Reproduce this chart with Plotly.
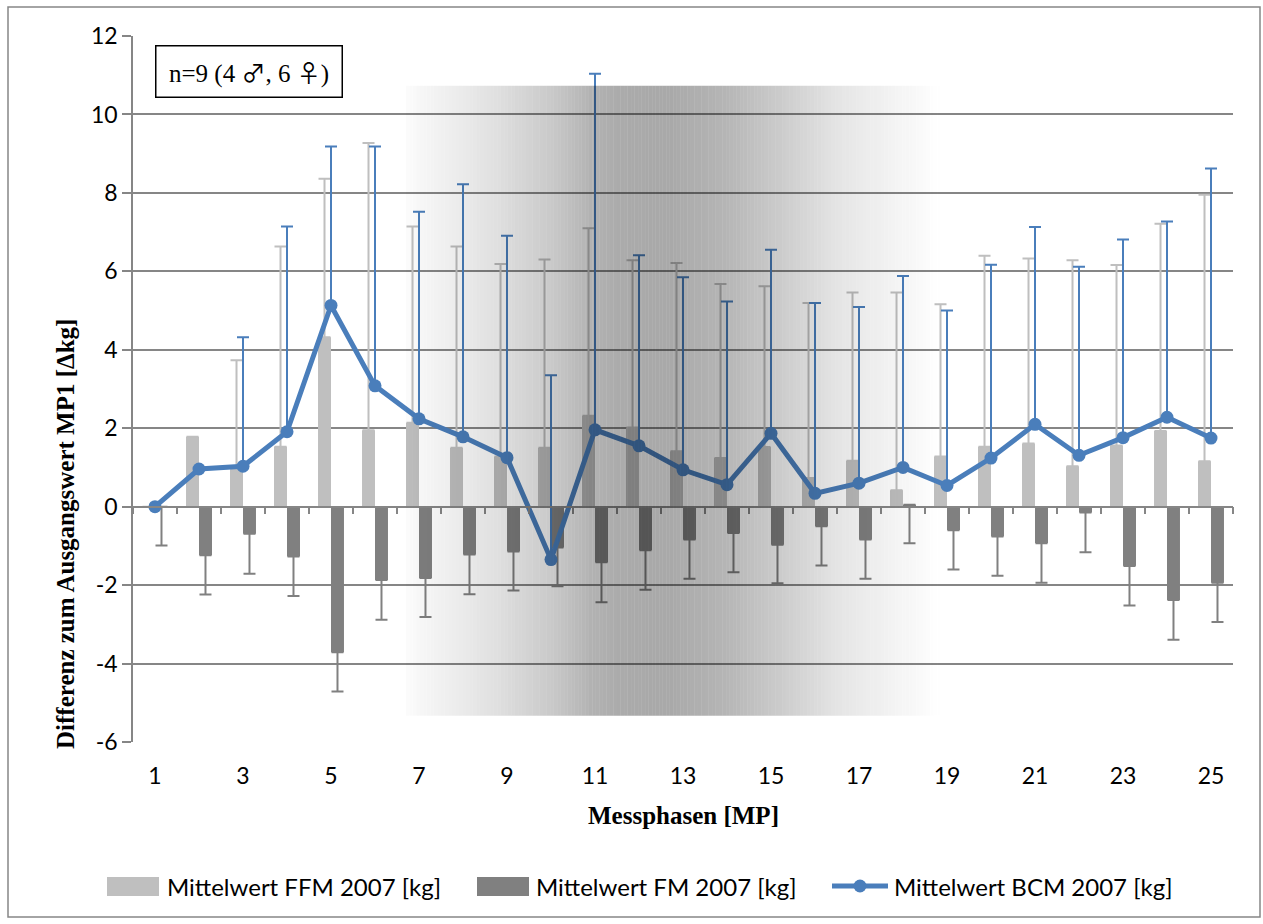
import numpy as np
import plotly.graph_objects as go

# ---------------- data ----------------
phases = list(range(1, 26))
tick_values = list(range(1, 26, 2))
tick_labels = [str(v) for v in tick_values]
y_ticks = [-6, -4, -2, 0, 2, 4, 6, 8, 10, 12]
y_tick_labels = ["-6", "-4", "-2", "0", "2", "4", "6", "8", "10", "12"]

ffm_mean = [0.00, 1.78, 0.95, 1.53, 4.32, 1.95, 2.14, 1.50, 1.28, 1.50,
            2.32, 2.02, 1.41, 1.24, 1.52, 0.73, 1.17, 0.42, 1.28, 1.53,
            1.61, 1.03, 1.56, 1.93, 1.16]
ffm_err_plus = [0.00, 0.00, 2.78, 5.10, 4.04, 7.32, 5.00, 5.13, 4.91, 4.80,
                4.78, 4.26, 4.80, 4.44, 4.10, 4.46, 4.29, 5.04, 3.88, 4.87,
                4.72, 5.25, 4.60, 5.28, 6.79]

fm_mean = [0.00, -1.24, -0.69, -1.27, -3.71, -1.87, -1.82, -1.22, -1.14, -1.04,
           -1.42, -1.11, -0.84, -0.67, -0.97, -0.50, -0.84, 0.05, -0.60, -0.76,
           -0.93, -0.15, -1.51, -2.38, -1.94]
fm_err_minus = [0.99, 1.00, 1.02, 1.01, 1.00, 1.01, 0.99, 1.01, 1.00, 0.99,
                1.02, 1.01, 1.00, 1.00, 0.98, 1.00, 1.00, 0.98, 1.00, 1.00,
                1.01, 1.01, 1.01, 1.01, 1.00]

bcm_mean = [0.00, 0.96, 1.03, 1.91, 5.13, 3.08, 2.24, 1.78, 1.25, -1.35,
            1.96, 1.55, 0.94, 0.56, 1.87, 0.34, 0.60, 1.00, 0.54, 1.24,
            2.10, 1.31, 1.76, 2.28, 1.75]
bcm_err_plus = [0.00, 0.00, 3.29, 5.23, 4.05, 6.10, 5.28, 6.44, 5.66, 4.70,
                9.08, 4.86, 4.91, 4.67, 4.68, 4.85, 4.49, 4.88, 4.46, 4.93,
                5.03, 4.81, 5.05, 4.99, 6.87]

series_names = ["Mittelwert FFM 2007 [kg]", "Mittelwert FM 2007 [kg]",
                "Mittelwert BCM 2007 [kg]"]
y_title = "Differenz zum Ausgangswert MP1 [Δkg]"
x_title = "Messphasen [MP]"
note_parts = ["n=9 (4 ", "♂", ", 6 ", "♀", ")"]

# ---------------- styles ----------------
C_FFM = "#BFBFBF"
C_FM = "#808080"
C_BCM = "#4A7EBB"
C_GRID = "#868686"
SANS = "Lato"
SERIF = "Liberation Serif"

W, H = 1263, 924
L, R, T, B = 133, 1233, 36, 742


def px(xp):
    return (xp - L) / (R - L)


def py(yp):
    return (B - yp) / (B - T)


fig = go.Figure()
fig.add_trace(go.Bar(
    x=phases, y=ffm_mean, name=series_names[0], marker_color=C_FFM,
    marker_line_width=0, showlegend=False,
    error_y=dict(type="data", symmetric=False, array=ffm_err_plus,
                 arrayminus=[0] * len(phases), color=C_FFM, thickness=2, width=6)))
fig.add_trace(go.Bar(
    x=phases, y=fm_mean, name=series_names[1], marker_color=C_FM,
    marker_line_width=0, showlegend=False,
    error_y=dict(type="data", symmetric=False, array=[0] * len(phases),
                 arrayminus=fm_err_minus, color=C_FM, thickness=2, width=6)))
fig.add_trace(go.Scatter(
    x=phases, y=bcm_mean, name=series_names[2], mode="lines+markers",
    line=dict(color=C_BCM, width=5), marker=dict(color=C_BCM, size=13),
    showlegend=False,
    error_y=dict(type="data", symmetric=False, array=bcm_err_plus,
                 arrayminus=[0] * len(phases), color=C_BCM, thickness=2, width=6)))

shapes = []
# gradient overlay (decoration)
g_x0, g_x1 = 6.70, 18.86
g_y0, g_y1 = -5.33, 10.73
stop_x = [6.70, 8.72, 10.0, 10.9, 11.55, 12.64, 13.95, 15.25, 16.57, 18.3, 18.86]
stop_a = [0.015, 0.12, 0.21, 0.30, 0.33, 0.34, 0.29, 0.20, 0.10, 0.025, 0.0]
edges = np.arange(g_x0, g_x1 + 1e-9, 0.08)
for a, b in zip(edges[:-1], edges[1:]):
    alpha = float(np.interp((a + b) / 2, stop_x, stop_a))
    shapes.append(dict(type="rect", xref="x", yref="y", x0=a, x1=b, y0=g_y0, y1=g_y1,
                       fillcolor=f"rgba(0,0,0,{alpha:.3f})", line=dict(width=0),
                       layer="above"))

# outer chart border
shapes.append(dict(type="rect", xref="paper", yref="paper", x0=px(8), x1=px(1260),
                   y0=py(917), y1=py(7), line=dict(color=C_GRID, width=1.5),
                   fillcolor="rgba(0,0,0,0)", layer="below"))

# manual legend
leg_y = 886
shapes.append(dict(type="rect", xref="paper", yref="paper", x0=px(107), x1=px(159),
                   y0=py(896), y1=py(877), fillcolor=C_FFM, line=dict(width=0)))
shapes.append(dict(type="rect", xref="paper", yref="paper", x0=px(477), x1=px(529),
                   y0=py(896), y1=py(877), fillcolor=C_FM, line=dict(width=0)))
shapes.append(dict(type="line", xref="paper", yref="paper", x0=px(832), x1=px(888),
                   y0=py(leg_y), y1=py(leg_y), line=dict(color=C_BCM, width=5)))
shapes.append(dict(type="circle", xref="paper", yref="paper", x0=px(853.5), x1=px(866.5),
                   y0=py(leg_y + 6.5), y1=py(leg_y - 6.5), fillcolor=C_BCM,
                   line=dict(width=0)))

annotations = []
for xs, name in zip([165, 534, 892], series_names):
    annotations.append(dict(xref="paper", yref="paper", x=px(xs), y=py(leg_y),
                            xanchor="left", yanchor="middle", text=name, showarrow=False,
                            font=dict(family=SANS, size=24, color="black")))
# axis titles
annotations.append(dict(xref="paper", yref="paper", x=px(683), y=py(815),
                        xanchor="center", yanchor="middle", text=f"<b>{x_title}</b>",
                        showarrow=False, font=dict(family=SERIF, size=25, color="black")))
annotations.append(dict(xref="paper", yref="paper", x=px(65), y=py(534),
                        xanchor="center", yanchor="middle", text=f"<b>{y_title}</b>",
                        textangle=-90, showarrow=False,
                        font=dict(family=SERIF, size=25, color="black")))
# note box
sym = "<span style=\"font-family:'Noto Sans CJK JP';font-size:24px\">{}</span>"
note_text = (note_parts[0] + sym.format(note_parts[1]) + note_parts[2]
             + sym.format(note_parts[3]) + note_parts[4])
annotations.append(dict(xref="paper", yref="paper", x=px(155), y=py(45),
                        xanchor="left", yanchor="top", text=note_text, showarrow=False,
                        width=185, height=50, borderpad=0, bordercolor="black",
                        borderwidth=1.5, bgcolor="white", align="center", valign="middle",
                        font=dict(family=SERIF, size=25, color="black")))

fig.update_layout(
    width=W, height=H,
    margin=dict(l=L, r=W - R, t=T, b=H - B),
    paper_bgcolor="white", plot_bgcolor="white",
    barmode="group", bargap=0.41, bargroupgap=0,
    showlegend=False,
    shapes=shapes, annotations=annotations,
    font=dict(family=SANS, size=23, color="black"),
    xaxis=dict(range=[0.5, 25.5], tickmode="array", tickvals=tick_values,
               ticktext=tick_labels, showgrid=False, zeroline=False, showline=False,
               ticks="", ticklabelstandoff=18,
               tickfont=dict(family=SANS, size=23, color="black")),
    xaxis2=dict(range=[0.5, 25.5], overlaying="x", anchor="free", position=1 / 3,
                side="bottom", showgrid=False, zeroline=False, showline=True,
                linecolor=C_GRID, linewidth=1.5, ticks="outside", ticklen=7,
                tickcolor=C_GRID, tickwidth=1.5, tickmode="array",
                tickvals=[i + 0.5 for i in range(0, 26)], showticklabels=False),
    yaxis=dict(range=[-6, 12], tickmode="array", tickvals=y_ticks,
               ticktext=y_tick_labels,
               showgrid=True, gridcolor=C_GRID, gridwidth=1.5, zeroline=False,
               showline=True, linecolor=C_GRID, linewidth=1.5,
               ticks="outside", ticklen=9, tickcolor=C_GRID, tickwidth=1.5,
               tickfont=dict(family=SANS, size=23, color="black")),
)

# invisible trace to make xaxis2 render
fig.add_trace(go.Scatter(x=[1], y=[0], xaxis="x2", mode="markers",
                         marker=dict(opacity=0), showlegend=False, hoverinfo="skip"))

fig.write_html("out.html")
